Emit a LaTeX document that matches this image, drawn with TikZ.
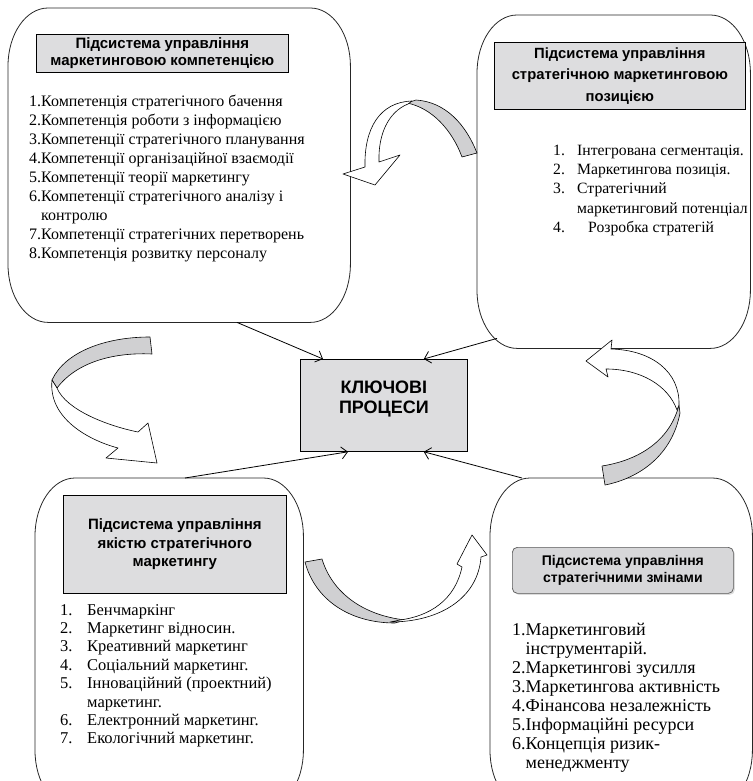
\documentclass[tikz,border=0pt]{standalone}
\usepackage{fontspec}
\setmainfont{Liberation Serif}
\newfontfamily\hdrfont{Liberation Sans}
\usetikzlibrary{arrows.meta,shadows}
\definecolor{hgray}{RGB}{221,221,223}
\definecolor{rgray}{RGB}{208,208,210}
\newcommand\eboxdraw[1]{%
  \draw[line width=0.8pt, draw=black!85]
    ([xshift=40pt]#1.north west) -- ([xshift=-40pt]#1.north east)
    arc[start angle=90, end angle=0, x radius=40pt, y radius=58pt]
    -- ([yshift=58pt]#1.south east)
    arc[start angle=0, end angle=-90, x radius=40pt, y radius=58pt]
    -- ([xshift=40pt]#1.south west)
    arc[start angle=-90, end angle=-180, x radius=40pt, y radius=58pt]
    -- ([yshift=-58pt]#1.north west)
    arc[start angle=180, end angle=90, x radius=40pt, y radius=58pt] -- cycle;}
\begin{document}
\begin{tikzpicture}[x=1pt,y=-1pt,
  bigbox/.style={draw=none, anchor=north west, inner sep=0},
  hbox/.style={draw, fill=hgray, line width=0.7pt, anchor=north west, inner sep=0, align=center},
  lst/.style={anchor=north west, inner sep=0, align=left},
  conn/.style={line width=0.8pt, -{Straight Barb[length=6pt,width=12pt]}},
  rib/.style={draw, line width=0.6pt, fill=rgray, line join=round},
  ribw/.style={draw, line width=0.6pt, fill=white, line join=round}
]
\useasboundingbox (0,0) rectangle (752,781);

% big rounded boxes
\node[bigbox, minimum width=342, minimum height=314] (tl) at (8,8) {};
\node[bigbox, minimum width=273, minimum height=333] (tr) at (477,15) {};
\node[bigbox, minimum width=268, minimum height=330] (bl) at (35,478) {};
\node[bigbox, minimum width=262, minimum height=330] (br) at (490,478) {};
\eboxdraw{tl}\eboxdraw{tr}\eboxdraw{bl}\eboxdraw{br}

% headers
\node[hbox, minimum width=252, minimum height=38, font=\hdrfont\bfseries\fontsize{15}{17}\selectfont] (tlh) at (36,34)
  {Підсистема управління\\маркетинговою компетенцією};
\node[hbox, minimum width=251, minimum height=67, font=\hdrfont\bfseries\fontsize{14.8}{21.7}\selectfont] (trh) at (494,42)
  {Підсистема управління\\стратегічною маркетинговою\\позицією};
\node[hbox, minimum width=223, minimum height=98, font=\hdrfont\bfseries\fontsize{15}{18.5}\selectfont] (blh) at (63,495)
  {Підсистема управління\\якістю стратегічного\\маркетингу};
\node[hbox, rounded corners=5pt, fill=rgray!85!white, draw=gray!70!black, minimum width=221, minimum height=46,
  drop shadow={shadow xshift=1.5pt, shadow yshift=-1.5pt, fill=gray!55},
  font=\hdrfont\bfseries\fontsize{14}{17}\selectfont] (brh) at (512,547)
  {Підсистема управління\\стратегічними змінами};

% center
\node[draw, fill=hgray, line width=0.8pt, minimum width=167, minimum height=92, anchor=north west, inner sep=0,
  align=center, font=\hdrfont\bfseries\fontsize{18}{20.5}\selectfont] (kp) at (300,359) {КЛЮЧОВІ\\[-1pt]ПРОЦЕСИ\\[-4pt]};

% lists
\node[lst, font=\fontsize{16}{19}\selectfont] (tll) at (29,95) {%
1.Компетенція стратегічного бачення\\
2.Компетенція роботи з інформацією\\
3.Компетенції стратегічного планування\\
4.Компетенції організаційної взаємодії\\
5.Компетенції теорії маркетингу\\
6.Компетенції стратегічного аналізу і\\
\hphantom{6.}контролю\\
7.Компетенції стратегічних перетворень\\
8.Компетенція розвитку персоналу};

\node[lst, font=\fontsize{15.7}{19.2}\selectfont] (trl) at (553,145) {%
\makebox[24pt][l]{1.}Інтегрована сегментація.\\
\makebox[24pt][l]{2.}Маркетингова позиція.\\
\makebox[24pt][l]{3.}Стратегічний\\
\hphantom{\makebox[24pt][l]{3.}}маркетинговий потенціал\\
\makebox[35pt][l]{4.}Розробка стратегій};

\node[lst, font=\fontsize{16.5}{18.4}\selectfont] (bll) at (60,604) {%
\makebox[27pt][l]{1.}Бенчмаркінг\\
\makebox[27pt][l]{2.}Маркетинг відносин.\\
\makebox[27pt][l]{3.}Креативний маркетинг\\
\makebox[27pt][l]{4.}Соціальний маркетинг.\\
\makebox[27pt][l]{5.}Інноваційний (проектний)\\
\hphantom{\makebox[27pt][l]{5.}}маркетинг.\\
\makebox[27pt][l]{6.}Електронний маркетинг.\\
\makebox[27pt][l]{7.}Екологічний маркетинг.};

\node[lst, font=\fontsize{18}{19}\selectfont] (brl) at (512,623) {%
1.Маркетинговий\\
\hphantom{1.}інструментарій.\\
2.Маркетингові зусилля\\
3.Маркетингова активність\\
4.Фінансова незалежність\\
5.Інформаційні ресурси\\
6.Концепція ризик-\\
\hphantom{6.}менеджменту};

% connectors
\draw[conn] ([xshift=229pt]tl.south west) -- ([xshift=23pt]kp.north west);
\draw[conn] ([xshift=20pt,yshift=10pt]tr.south west) -- ([xshift=-44pt]kp.north east);
\draw[conn] ([xshift=150pt]bl.north west) -- ([xshift=48pt]kp.south west);
\draw[conn] ([xshift=32pt]br.north west) -- ([xshift=-44pt]kp.south east);

% top curved arrow
\draw[rib] (477,153) .. controls (466,125) and (446,102) .. (416,100) -- (407,103)
   .. controls (432,108) and (452,130) .. (462,157) -- cycle;
\draw[ribw] (412,101) .. controls (380,102) and (364,128) .. (365,167) -- (343,174) -- (375,185) -- (400,155)
   -- (379,162) .. controls (378,135) and (388,112) .. (408,104) -- cycle;

% bottom curved arrow
\draw[rib] (305,562) -- (322,559) .. controls (332,592) and (362,615) .. (405,620) -- (395,623)
   .. controls (350,623) and (315,600) .. (305,562) -- cycle;
\draw[ribw] (390,622) .. controls (440,622) and (478,598) .. (481,557) -- (487,555) -- (472,535) -- (457,564)
   -- (462,567) .. controls (455,600) and (430,616) .. (400,620) -- cycle;

% right curved arrow
\draw[rib] (602,466) .. controls (640,460) and (670,440) .. (679,405) -- (680,413)
   .. controls (672,455) and (640,478) .. (605,485) -- cycle;
\draw[ribw] (679,405) .. controls (680,372) and (652,350) .. (611,349) -- (612,340) -- (586,361) -- (608,377)
   -- (606,369) .. controls (640,369) and (668,385) .. (677,410) -- cycle;

% left curved arrow
\draw[rib] (52,380) .. controls (65,352) and (105,337) .. (150,337) -- (152,354)
   .. controls (110,352) and (75,364) .. (57,388) -- cycle;
\draw[ribw] (52,380) .. controls (48,418) and (88,440) .. (118,448) -- (106,458) -- (157,463) -- (148,423)
   -- (138,432) .. controls (108,426) and (66,410) .. (57,388) -- cycle;
\end{tikzpicture}
\end{document}
